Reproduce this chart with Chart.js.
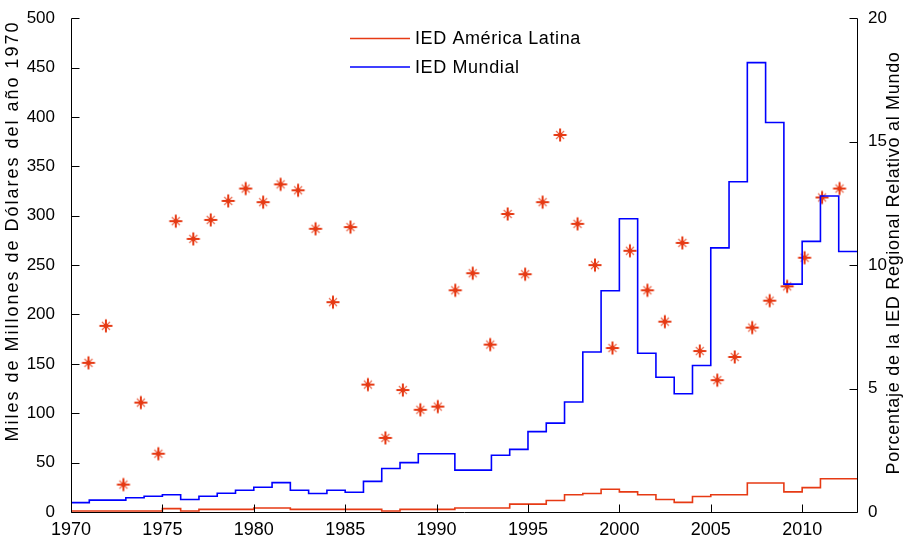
<!DOCTYPE html>
<html>
<head>
<meta charset="utf-8">
<title>IED América Latina y Mundial</title>
<script src="https://cdn.jsdelivr.net/npm/chart.js@4/dist/chart.umd.min.js"></script>
<style>
  html, body { margin: 0; padding: 0; background: #ffffff; }
  #wrap { width: 905px; height: 537px; position: relative; }
</style>
</head>
<body>
<div id="wrap"><canvas id="chart" width="905" height="537"></canvas></div>
<script>
// Years for the stair series; the last year closes the final step.
const years = [1970, 1971, 1972, 1973, 1974, 1975, 1976, 1977, 1978, 1979,
               1980, 1981, 1982, 1983, 1984, 1985, 1986, 1987, 1988, 1989,
               1990, 1991, 1992, 1993, 1994, 1995, 1996, 1997, 1998, 1999,
               2000, 2001, 2002, 2003, 2004, 2005, 2006, 2007, 2008, 2009,
               2010, 2011, 2012, 2013];

// FDI inflows, billions of 1970 dollars
const worldFDI = [9.5, 12, 12, 14.4, 16, 17.4, 12.7, 16, 19, 22,
                  25, 29.7, 22, 18.7, 22, 20, 31, 44, 50, 59,
                  59, 42.4, 42.4, 57.4, 63.4, 81.4, 90, 111.4, 162, 224,
                  297, 160.7, 136.4, 119.7, 148.4, 267.4, 334.4, 455, 394.4, 230.7,
                  274, 320, 263.7, 263.7];

const latamFDI = [1, 1, 1, 1, 1, 3.4, 1, 2.7, 2.7, 2.7,
                  4, 4, 2.7, 2.7, 2.7, 2.7, 2.7, 1, 2.7, 2.7,
                  2.7, 4, 4, 4, 8, 8, 11.7, 17.4, 18.7, 23,
                  20.4, 17.4, 12.7, 9.7, 15.7, 17.4, 17.4, 29.4, 29.4, 20.4,
                  24.7, 33.7, 33.7, 33.7];

// Regional share of world FDI (%), plotted on the secondary axes
const shareYears = [1971, 1972, 1973, 1974, 1975, 1976, 1977, 1978, 1979, 1980,
                    1981, 1982, 1983, 1984, 1985, 1986, 1987, 1988, 1989, 1990,
                    1991, 1992, 1993, 1994, 1995, 1996, 1997, 1998, 1999, 2000,
                    2001, 2002, 2003, 2004, 2005, 2006, 2007, 2008, 2009, 2010,
                    2011, 2012, 2013, 2014];
const sharePct = [6.04, 7.54, 1.11, 4.43, 2.36, 11.78, 11.06, 11.83, 12.6, 13.1,
                  12.55, 13.27, 13.03, 11.47, 8.5, 11.54, 5.16, 3.0, 4.94, 4.14,
                  4.27, 8.98, 9.67, 6.78, 12.07, 9.63, 12.55, 15.27, 11.67, 10.0,
                  6.64, 10.58, 8.98, 7.71, 10.9, 6.52, 5.34, 6.28, 7.47, 8.56,
                  9.14, 10.3, 12.74, 13.1];

// Tick labels
const xTickValues = [1970, 1975, 1980, 1985, 1990, 1995, 2000, 2005, 2010];
const leftTickValues = [0, 50, 100, 150, 200, 250, 300, 350, 400, 450, 500];
const rightTickValues = [0, 5, 10, 15, 20];

const RED = '#e63a14';
const BLUE = '#0000ff';
const FONT = '"Liberation Sans", Arial, Helvetica, sans-serif';

// Asterisk marker: a plus sign with a short diagonal cross and a solid centre
function makeAsterisk() {
  const s = 16, c = s / 2;
  const cv = document.createElement('canvas');
  cv.width = s; cv.height = s;
  const g = cv.getContext('2d');
  g.strokeStyle = RED;
  g.lineWidth = 2;
  g.beginPath();
  g.moveTo(c - 6.5, c); g.lineTo(c + 6.5, c);
  g.moveTo(c, c - 6.5); g.lineTo(c, c + 6.5);
  g.stroke();
  g.globalAlpha = 0.75;
  g.lineWidth = 1.2;
  g.beginPath();
  g.moveTo(c - 4, c - 4); g.lineTo(c + 4, c + 4);
  g.moveTo(c + 4, c - 4); g.lineTo(c - 4, c + 4);
  g.stroke();
  g.globalAlpha = 1;
  g.fillStyle = RED;
  g.fillRect(c - 2, c - 2, 4, 4);
  return cv;
}

const toXY = (xs, ys) => xs.map((x, i) => ({ x: x, y: ys[i] }));

// Axis lines, inward tick marks, axis titles and the legend contents
const decorations = {
  id: 'decorations',
  afterDraw(chart) {
    const { ctx, chartArea: a, scales } = chart;
    ctx.save();
    ctx.strokeStyle = '#000';
    ctx.lineWidth = 1;
    const L = Math.round(a.left) + 0.5, R = Math.round(a.right) + 0.5;
    const T = Math.round(a.top) + 0.5, B = Math.round(a.bottom) + 0.5;
    ctx.beginPath();
    ctx.moveTo(L, T); ctx.lineTo(L, B); ctx.lineTo(R, B); ctx.lineTo(R, T);
    const tl = 8;
    scales.x.ticks.forEach(t => {
      const px = Math.round(scales.x.getPixelForValue(t.value)) + 0.5;
      ctx.moveTo(px, B); ctx.lineTo(px, B - tl);
    });
    scales.y.ticks.forEach(t => {
      const py = Math.round(scales.y.getPixelForValue(t.value)) + 0.5;
      ctx.moveTo(L, py); ctx.lineTo(L + tl, py);
    });
    scales.y2.ticks.forEach(t => {
      const py = Math.round(scales.y2.getPixelForValue(t.value)) + 0.5;
      ctx.moveTo(R, py); ctx.lineTo(R - tl, py);
    });
    ctx.stroke();

    // Axis titles
    ctx.fillStyle = '#000';
    ctx.font = '18px ' + FONT;
    ctx.textAlign = 'center';
    ctx.textBaseline = 'middle';
    ctx.save();
    ctx.translate(13, 231);
    ctx.rotate(-Math.PI / 2);
    ctx.letterSpacing = '2px';
    ctx.fillText('Miles de Millones de Dólares del año 1970', 0, 0);
    ctx.restore();
    ctx.save();
    ctx.translate(894, 263);
    ctx.rotate(-Math.PI / 2);
    ctx.letterSpacing = '0.7px';
    ctx.fillText('Porcentaje de la IED Regional Relativo al Mundo', 0, 0);
    ctx.restore();

    // Legend (line series only)
    const items = chart.data.datasets.filter(d => d.showInLegend);
    ctx.textAlign = 'left';
    ctx.letterSpacing = '0.6px';
    items.forEach((d, i) => {
      const y = 38.5 + i * 28.5;
      ctx.strokeStyle = d.borderColor;
      ctx.lineWidth = 1.5;
      ctx.beginPath();
      ctx.moveTo(350, y); ctx.lineTo(410, y);
      ctx.stroke();
      ctx.fillStyle = '#000';
      ctx.fillText(d.label, 415, y + 1);
    });
    ctx.restore();
  }
};

const tickFont = (size) => ({ family: FONT, size: size });

new Chart(document.getElementById('chart'), {
  type: 'line',
  data: {
    datasets: [
      {
        label: 'IED América Latina',
        showInLegend: true,
        data: toXY(years, latamFDI),
        xAxisID: 'x', yAxisID: 'y',
        stepped: 'before',
        borderColor: RED, borderWidth: 1.6,
        pointRadius: 0, fill: false
      },
      {
        label: 'IED Mundial',
        showInLegend: true,
        data: toXY(years, worldFDI),
        xAxisID: 'x', yAxisID: 'y',
        stepped: 'before',
        borderColor: BLUE, borderWidth: 1.6,
        pointRadius: 0, fill: false
      },
      {
        label: 'Porcentaje regional',
        showInLegend: false,
        data: toXY(shareYears, sharePct),
        xAxisID: 'x2', yAxisID: 'y2',
        showLine: false,
        pointStyle: makeAsterisk(),
        pointRadius: 8,
        borderColor: RED, backgroundColor: RED
      }
    ]
  },
  options: {
    responsive: false,
    animation: false,
    devicePixelRatio: 1,
    layout: { padding: { top: 12, left: 0, right: 0, bottom: 0 } },
    plugins: { legend: { display: false }, tooltip: { enabled: false }, title: { display: false } },
    scales: {
      x: {
        type: 'linear', position: 'bottom', min: 1970, max: 2013,
        afterBuildTicks: s => { s.ticks = xTickValues.map(v => ({ value: v })); },
        afterFit: s => { s.height = 25; },
        grid: { display: false }, border: { display: false },
        ticks: { callback: v => String(v), font: tickFont(18), color: '#000', padding: -1, maxRotation: 0, autoSkip: false }
      },
      x2: { type: 'linear', position: 'bottom', min: 1970, max: 2015, display: false },
      y: {
        type: 'linear', position: 'left', min: 0, max: 500,
        afterBuildTicks: s => { s.ticks = leftTickValues.map(v => ({ value: v })); },
        afterFit: s => { s.width = 71; },
        grid: { display: false }, border: { display: false },
        ticks: { callback: v => String(v), font: tickFont(17), color: '#000', padding: 8, autoSkip: false }
      },
      y2: {
        type: 'linear', position: 'right', min: 0, max: 20,
        afterBuildTicks: s => { s.ticks = rightTickValues.map(v => ({ value: v })); },
        afterFit: s => { s.width = 48; },
        grid: { display: false, drawOnChartArea: false }, border: { display: false },
        ticks: { callback: v => String(v), font: tickFont(17), color: '#000', padding: 3, autoSkip: false }
      }
    }
  },
  plugins: [decorations]
});
</script>
</body>
</html>
